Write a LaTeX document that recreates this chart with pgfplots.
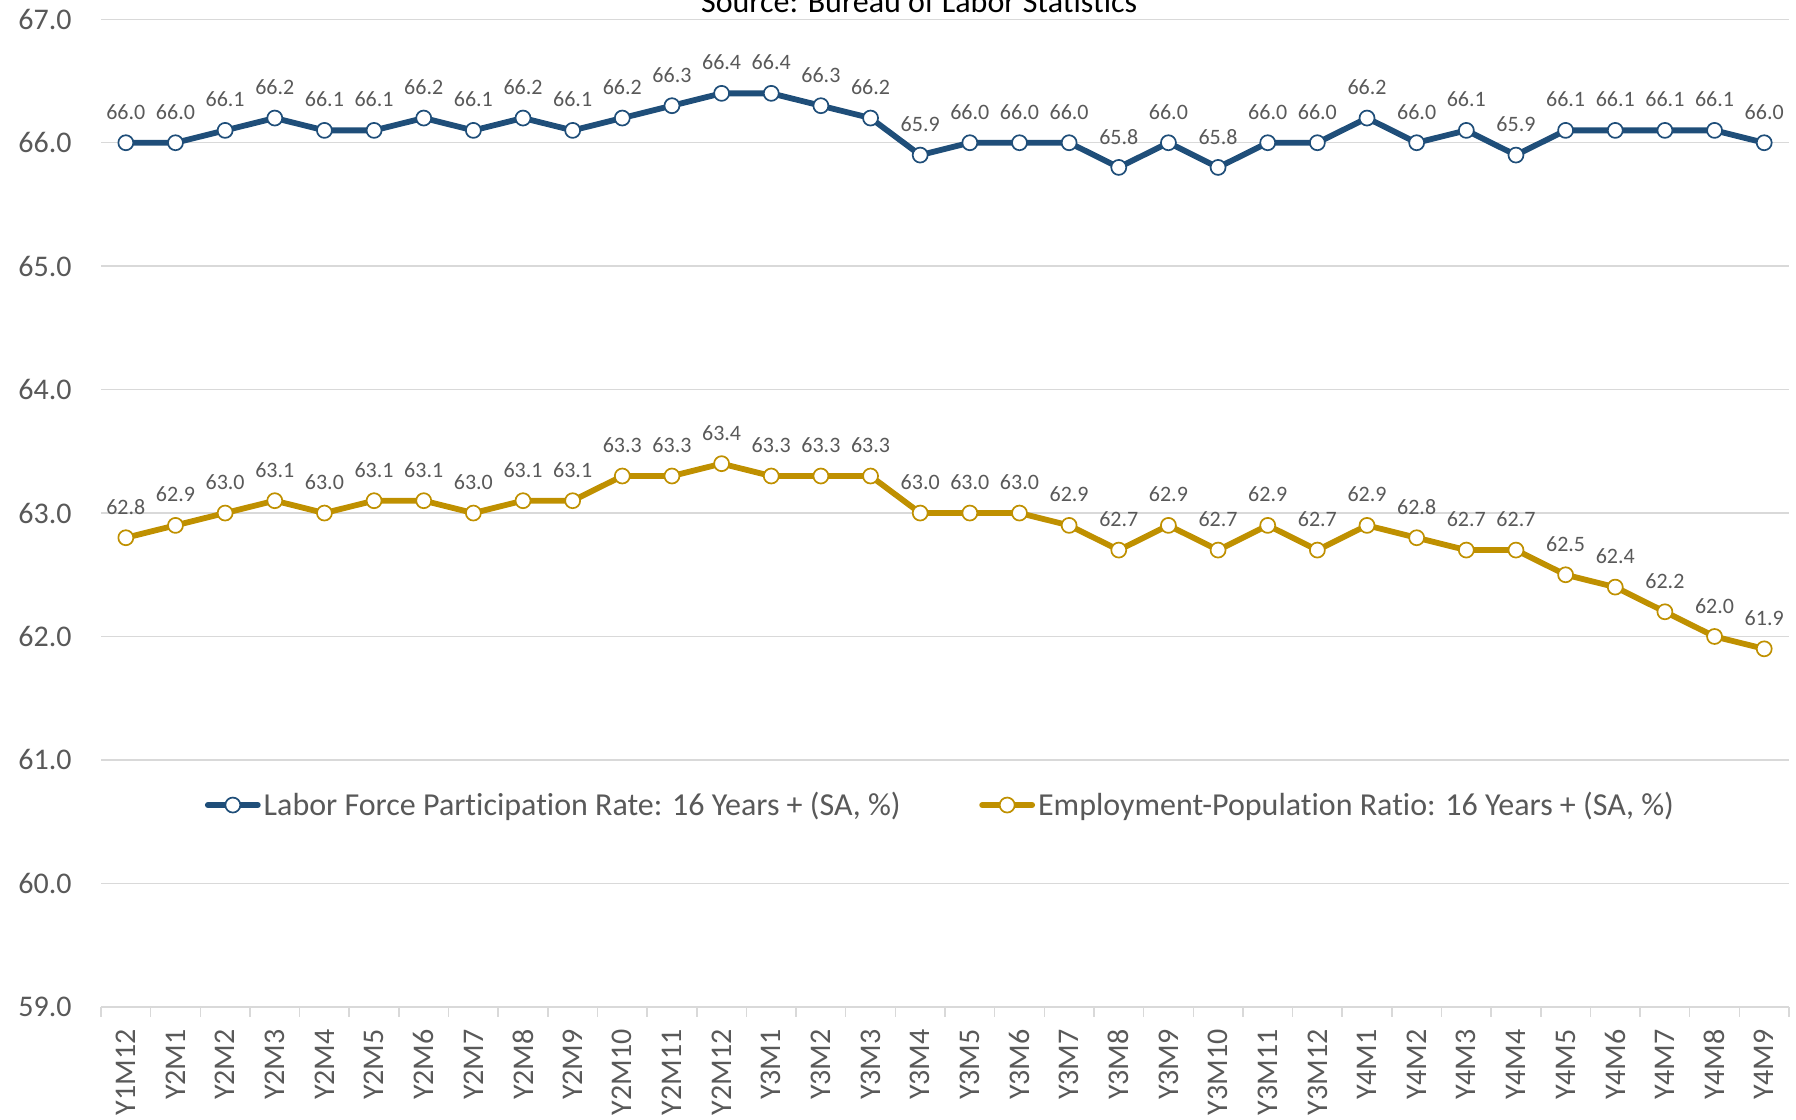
\documentclass[border=0pt]{standalone}
\usepackage{fontspec}
\setmainfont[Ligatures={NoCommon}]{Carlito}
\usepackage{pgfplots}
\pgfplotsset{compat=1.18}
\definecolor{lfblue}{HTML}{1F4E79}
\definecolor{epgold}{HTML}{BF9000}
\definecolor{txtgray}{HTML}{595959}
\definecolor{gridgray}{HTML}{D9D9D9}
\begin{document}
\begin{tikzpicture}
\begin{axis}[
  scale only axis, width=843.9pt, height=493.7pt,
  xmin=-0.5, xmax=33.5, ymin=59, ymax=67,
  ytick={59,60,...,67},
  xtick={0,1,...,33},
  xticklabels={Y1M12,Y2M1,Y2M2,Y2M3,Y2M4,Y2M5,Y2M6,Y2M7,Y2M8,Y2M9,Y2M10,Y2M11,Y2M12,Y3M1,Y3M2,Y3M3,Y3M4,Y3M5,Y3M6,Y3M7,Y3M8,Y3M9,Y3M10,Y3M11,Y3M12,Y4M1,Y4M2,Y4M3,Y4M4,Y4M5,Y4M6,Y4M7,Y4M8,Y4M9},
  minor xtick={-0.5,0.5,...,33.5},
  axis x line*=bottom, axis y line*=left,
  y axis line style={draw=none},
  x axis line style={gridgray, line width=0.75pt},
  tick align=outside,
  major tick length=0pt, minor tick length=5pt,
  minor x tick style={gridgray, line width=0.75pt},
  ymajorgrids, major grid style={gridgray, line width=0.75pt},
  /pgf/number format/assume math mode=true,
  yticklabel={\pgfmathprintnumber[fixed,fixed zerofill,precision=1]{\tick}},
  ticklabel style={font=\fontsize{15}{18}\selectfont, text=txtgray, inner sep=0pt},
  yticklabel style={anchor=east},
  yticklabel shift=14.5pt,
  xticklabel style={rotate=90, anchor=east},
  xticklabel shift=11pt,
  nodes near coords={\pgfmathprintnumber[fixed,fixed zerofill,precision=1,assume math mode=true]{\pgfplotspointmeta}},
  every node near coord/.append style={font=\fontsize{11}{13}\selectfont, text=txtgray, anchor=base, yshift=11.7pt, inner sep=0pt},
  legend style={at={(0.4976,0.2043)}, anchor=center, draw=none, fill=none,
    font=\fontsize{16}{19}\selectfont, text=txtgray, legend columns=2,
    /tikz/every even column/.append style={column sep=37.8pt},
    nodes={inner sep=1.5pt}},
  legend cell align=left,
  legend image code/.code={\draw[mark repeat=2,mark phase=2,#1] plot coordinates {(1.5pt,0pt) (14pt,0pt) (26.5pt,0pt)};},
]
\addplot[lfblue, line width=2.9pt, line cap=round, line join=round, mark=*, mark size=3.75pt,
  mark options={fill=white, draw=lfblue, line width=0.85pt, solid}]
  coordinates {
  (0,66.0) (1,66.0) (2,66.1) (3,66.2) (4,66.1) (5,66.1) (6,66.2) (7,66.1) (8,66.2) (9,66.1)
  (10,66.2) (11,66.3) (12,66.4) (13,66.4) (14,66.3) (15,66.2) (16,65.9) (17,66.0) (18,66.0) (19,66.0)
  (20,65.8) (21,66.0) (22,65.8) (23,66.0) (24,66.0) (25,66.2) (26,66.0) (27,66.1) (28,65.9) (29,66.1)
  (30,66.1) (31,66.1) (32,66.1) (33,66.0)};
\addlegendentry{Labor Force Participation Rate: 16 Years + (SA, \%)}
\addplot[epgold, line width=2.9pt, line cap=round, line join=round, mark=*, mark size=3.75pt,
  mark options={fill=white, draw=epgold, line width=0.85pt, solid}]
  coordinates {
  (0,62.8) (1,62.9) (2,63.0) (3,63.1) (4,63.0) (5,63.1) (6,63.1) (7,63.0) (8,63.1) (9,63.1)
  (10,63.3) (11,63.3) (12,63.4) (13,63.3) (14,63.3) (15,63.3) (16,63.0) (17,63.0) (18,63.0) (19,62.9)
  (20,62.7) (21,62.9) (22,62.7) (23,62.9) (24,62.7) (25,62.9) (26,62.8) (27,62.7) (28,62.7) (29,62.5)
  (30,62.4) (31,62.2) (32,62.0) (33,61.9)};
\addlegendentry{Employment-Population Ratio: 16 Years + (SA, \%)}
\coordinate (sw) at (rel axis cs:0,0);
\coordinate (ne) at (rel axis cs:1,1);
\coordinate (tt) at (rel axis cs:0.4847,1);
\end{axis}
\node[anchor=base, inner sep=0pt, font=\fontsize{16}{19}\selectfont, text=black] at ([yshift=3.35pt]tt) {Source: Bureau of Labor Statistics};
\pgfresetboundingbox
\path[use as bounding box] ([shift={(-50.5pt,-56.15pt)}]sw) rectangle ([shift={(3.5pt,9.65pt)}]ne);
\end{tikzpicture}
\end{document}
